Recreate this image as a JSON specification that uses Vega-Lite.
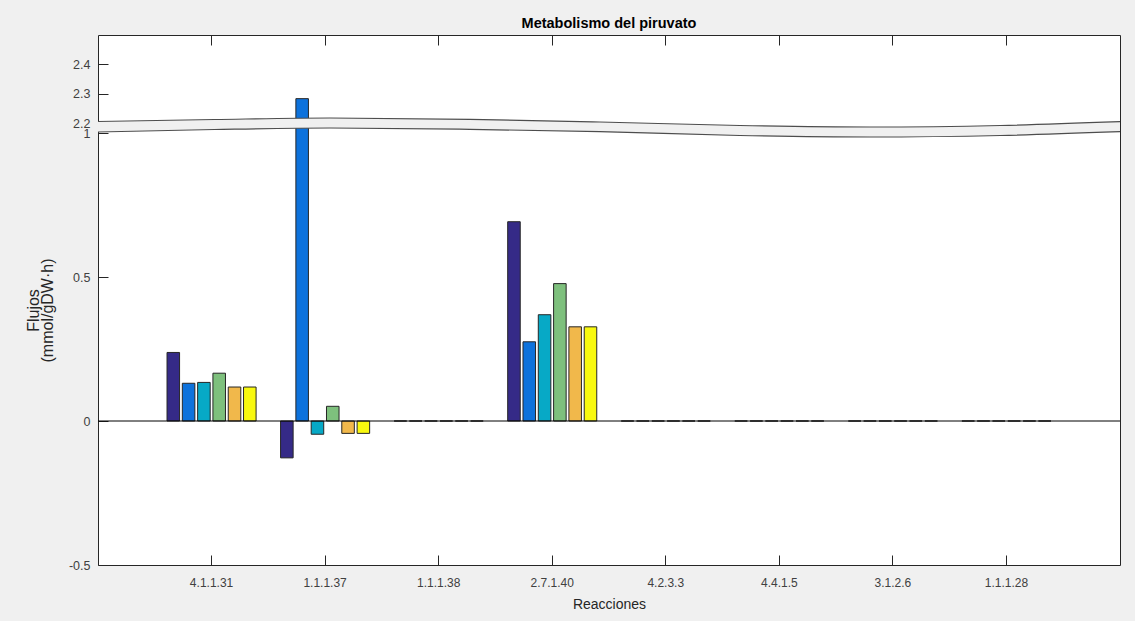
{
  "$schema": "https://vega.github.io/schema/vega-lite/v6.json",
  "width": 1022,
  "height": 530,
  "autosize": {"type": "none"},
  "padding": {"left": 98, "top": 35, "right": 15, "bottom": 56},
  "background": "#f0f0f0",
  "view": {"fill": "white", "stroke": null},
  "config": {
    "font": "Liberation Sans",
    "axis": {"domainColor": "#262626", "tickColor": "#262626", "labelColor": "#404040", "titleColor": "#262626", "titleFontWeight": "normal", "grid": false}
  },
  "title": {
    "text": "Metabolismo del piruvato",
    "fontSize": 14.5,
    "fontWeight": "bold",
    "color": "#000000",
    "anchor": "middle",
    "baseline": "alphabetic",
    "offset": -8
  },
  "datasets": {
    "flujos": [
      {"reaccion": "4.1.1.31", "serie": "C1", "valor": 0.238},
      {"reaccion": "4.1.1.31", "serie": "C2", "valor": 0.131},
      {"reaccion": "4.1.1.31", "serie": "C3", "valor": 0.134},
      {"reaccion": "4.1.1.31", "serie": "C4", "valor": 0.166},
      {"reaccion": "4.1.1.31", "serie": "C5", "valor": 0.118},
      {"reaccion": "4.1.1.31", "serie": "C6", "valor": 0.118},
      {"reaccion": "1.1.1.37", "serie": "C1", "valor": -0.128},
      {"reaccion": "1.1.1.37", "serie": "C2", "valor": 2.283},
      {"reaccion": "1.1.1.37", "serie": "C3", "valor": -0.046},
      {"reaccion": "1.1.1.37", "serie": "C4", "valor": 0.051},
      {"reaccion": "1.1.1.37", "serie": "C5", "valor": -0.043},
      {"reaccion": "1.1.1.37", "serie": "C6", "valor": -0.043},
      {"reaccion": "1.1.1.38", "serie": "C1", "valor": 0},
      {"reaccion": "1.1.1.38", "serie": "C2", "valor": 0},
      {"reaccion": "1.1.1.38", "serie": "C3", "valor": 0},
      {"reaccion": "1.1.1.38", "serie": "C4", "valor": 0},
      {"reaccion": "1.1.1.38", "serie": "C5", "valor": 0},
      {"reaccion": "1.1.1.38", "serie": "C6", "valor": 0},
      {"reaccion": "2.7.1.40", "serie": "C1", "valor": 0.692},
      {"reaccion": "2.7.1.40", "serie": "C2", "valor": 0.275},
      {"reaccion": "2.7.1.40", "serie": "C3", "valor": 0.369},
      {"reaccion": "2.7.1.40", "serie": "C4", "valor": 0.477},
      {"reaccion": "2.7.1.40", "serie": "C5", "valor": 0.327},
      {"reaccion": "2.7.1.40", "serie": "C6", "valor": 0.327},
      {"reaccion": "4.2.3.3", "serie": "C1", "valor": 0},
      {"reaccion": "4.2.3.3", "serie": "C2", "valor": 0},
      {"reaccion": "4.2.3.3", "serie": "C3", "valor": 0},
      {"reaccion": "4.2.3.3", "serie": "C4", "valor": 0},
      {"reaccion": "4.2.3.3", "serie": "C5", "valor": 0},
      {"reaccion": "4.2.3.3", "serie": "C6", "valor": 0},
      {"reaccion": "4.4.1.5", "serie": "C1", "valor": 0},
      {"reaccion": "4.4.1.5", "serie": "C2", "valor": 0},
      {"reaccion": "4.4.1.5", "serie": "C3", "valor": 0},
      {"reaccion": "4.4.1.5", "serie": "C4", "valor": 0},
      {"reaccion": "4.4.1.5", "serie": "C5", "valor": 0},
      {"reaccion": "4.4.1.5", "serie": "C6", "valor": 0},
      {"reaccion": "3.1.2.6", "serie": "C1", "valor": 0},
      {"reaccion": "3.1.2.6", "serie": "C2", "valor": 0},
      {"reaccion": "3.1.2.6", "serie": "C3", "valor": 0},
      {"reaccion": "3.1.2.6", "serie": "C4", "valor": 0},
      {"reaccion": "3.1.2.6", "serie": "C5", "valor": 0},
      {"reaccion": "3.1.2.6", "serie": "C6", "valor": 0},
      {"reaccion": "1.1.1.28", "serie": "C1", "valor": 0},
      {"reaccion": "1.1.1.28", "serie": "C2", "valor": 0},
      {"reaccion": "1.1.1.28", "serie": "C3", "valor": 0},
      {"reaccion": "1.1.1.28", "serie": "C4", "valor": 0},
      {"reaccion": "1.1.1.28", "serie": "C5", "valor": 0},
      {"reaccion": "1.1.1.28", "serie": "C6", "valor": 0}
    ],
    "corte": [
      {"pos": 0.0, "arriba": 2.2051, "abajo": 1.12},
      {"pos": 0.114, "arriba": 2.2119, "abajo": 1.42},
      {"pos": 0.227, "arriba": 2.217, "abajo": 1.6},
      {"pos": 0.364, "arriba": 2.2126, "abajo": 1.444},
      {"pos": 0.491, "arriba": 2.2034, "abajo": 1.156},
      {"pos": 0.628, "arriba": 1.9, "abajo": 0.9913},
      {"pos": 0.755, "arriba": 1.72, "abajo": 0.9861},
      {"pos": 0.883, "arriba": 1.9, "abajo": 0.9913},
      {"pos": 1.0, "arriba": 2.2044, "abajo": 1.156}
    ]
  },
  "layer": [
    {
      "layer": [
        {
          "data": {"name": "flujos"},
          "mark": {"type": "bar", "stroke": "#262626", "strokeWidth": 1},
          "encoding": {
            "x": {
              "field": "reaccion", "type": "nominal",
              "sort": ["4.1.1.31", "1.1.1.37", "1.1.1.38", "2.7.1.40", "4.2.3.3", "4.4.1.5", "3.1.2.6", "1.1.1.28"],
              "scale": {"paddingInner": 0, "paddingOuter": 0.5},
              "axis": {"orient": "bottom", "title": "Reacciones", "titleFontSize": 14, "titlePadding": 9, "labelFontSize": 12, "labelAngle": 0, "tickSize": -10, "labelPadding": 22, "domain": true}
            },
            "xOffset": {"field": "serie", "type": "nominal", "scale": {"paddingInner": 0.18, "paddingOuter": 0.8}},
            "y": {
              "field": "valor", "type": "quantitative",
              "scale": {"domain": [-0.5, 1, 2.2, 2.5], "range": [530, 98, 88, 0], "nice": false, "zero": false},
              "axis": {
                "orient": "left",
                "values": [-0.5, 0, 0.5, 1, 2.2, 2.3, 2.4],
                "labelExpr": "datum.value + ''",
                "labelFontSize": 12.5,
                "labelOverlap": false,
                "labelFlush": false,
                "labelBound": false,
                "tickSize": -10,
                "labelPadding": 18,
                "title": ["Flujos", "(mmol/gDW·h)"],
                "titleFontSize": 16,
                "titleLineHeight": 14,
                "titleAngle": -90,
                "titleAlign": "center",
                "titleBaseline": "middle",
                "titleX": -65,
                "titleY": 275
              }
            },
            "color": {
              "field": "serie", "type": "nominal",
              "scale": {"domain": ["C1", "C2", "C3", "C4", "C5", "C6"], "range": ["#352a87", "#0d72dc", "#07a9c6", "#7ec07d", "#f1b84b", "#f8f80f"]},
              "legend": null
            }
          }
        },
        {
          "data": {"name": "flujos"},
          "mark": {"type": "tick", "opacity": 0},
          "encoding": {
            "x": {
              "field": "reaccion", "type": "nominal",
              "sort": ["4.1.1.31", "1.1.1.37", "1.1.1.38", "2.7.1.40", "4.2.3.3", "4.4.1.5", "3.1.2.6", "1.1.1.28"],
              "axis": {"orient": "top", "labels": false, "title": null, "tickSize": -10, "domain": true}
            },
            "y": {
              "field": "valor", "type": "quantitative",
              "axis": {"orient": "right", "labels": false, "ticks": false, "title": null, "domain": true}
            }
          }
        },
        {
          "data": {"values": [{"valor": 0}]},
          "mark": {"type": "rule", "stroke": "#000000", "strokeWidth": 1},
          "encoding": {"y": {"field": "valor", "type": "quantitative", "axis": null}}
        }
      ]
    },
    {
      "layer": [
        {
          "data": {"name": "corte"},
          "mark": {"type": "area", "fill": "#f0f0f0", "interpolate": "monotone"},
          "encoding": {
            "x": {"field": "pos", "type": "quantitative", "scale": {"domain": [0, 1], "nice": false, "zero": false}, "axis": null},
            "y": {"field": "arriba", "type": "quantitative", "axis": null},
            "y2": {"field": "abajo"}
          }
        },
        {
          "data": {"name": "corte"},
          "mark": {"type": "line", "stroke": "#4d4d4d", "strokeWidth": 1.2, "interpolate": "monotone"},
          "encoding": {
            "x": {"field": "pos", "type": "quantitative", "axis": null},
            "y": {"field": "arriba", "type": "quantitative", "axis": null}
          }
        },
        {
          "data": {"name": "corte"},
          "mark": {"type": "line", "stroke": "#4d4d4d", "strokeWidth": 1.2, "interpolate": "monotone"},
          "encoding": {
            "x": {"field": "pos", "type": "quantitative", "axis": null},
            "y": {"field": "abajo", "type": "quantitative", "axis": null}
          }
        }
      ]
    }
  ],
  "resolve": {"scale": {"x": "independent"}}
}
